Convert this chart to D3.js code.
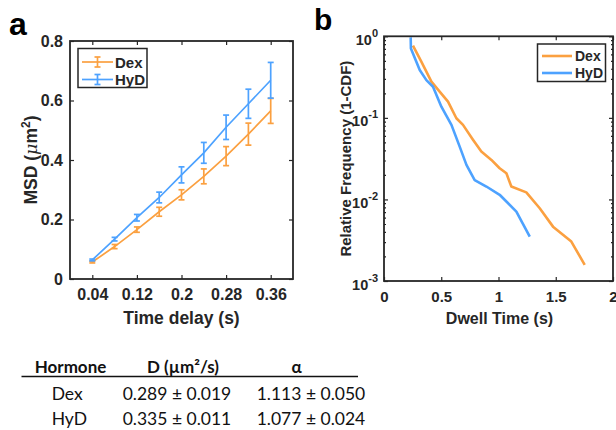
<!DOCTYPE html>
<html>
<head>
<meta charset="utf-8">
<script src="https://cdn.jsdelivr.net/npm/d3@7"></script>
<style>
  body { margin: 0; background: #fff; }
  svg { display: block; }
  .ax text { font-family: "Liberation Sans", Arial, sans-serif; font-weight: bold; fill: #262626; }
  .tbl text { font-family: Lato, "Open Sans", sans-serif; fill: #111; }
</style>
</head>
<body>
<div id="chart"></div>
<script>
// panel a: MSD vs time lag
const msdLags = [0.04, 0.08, 0.12, 0.16, 0.2, 0.24, 0.28, 0.32, 0.36];
const dexMsd = [0.057, 0.109, 0.166, 0.226, 0.283, 0.345, 0.413, 0.487, 0.565];
const dexErr = [0.003, 0.007, 0.009, 0.015, 0.017, 0.025, 0.032, 0.037, 0.042];
const hydMsd = [0.064, 0.134, 0.206, 0.274, 0.35, 0.424, 0.51, 0.589, 0.668];
const hydErr = [0.003, 0.006, 0.011, 0.018, 0.027, 0.035, 0.041, 0.049, 0.06];
const msdXTicks = [0.04, 0.12, 0.2, 0.28, 0.36];
const msdYTicks = [0, 0.2, 0.4, 0.6, 0.8];

// panel b: dwell time survival curves
const dexDwellT = [0.253, 0.326, 0.414, 0.486, 0.559, 0.632, 0.69, 0.777, 0.85, 0.938, 1.01, 1.069, 1.112, 1.243, 1.36, 1.476, 1.636, 1.753];
const dexDwellP = [0.77, 0.49, 0.278, 0.21, 0.158, 0.099, 0.082, 0.054, 0.0386, 0.0305, 0.0241, 0.0209, 0.0144, 0.0122, 0.0078, 0.00464, 0.00304, 0.00158];
const hydDwellT = [0.233, 0.235, 0.312, 0.37, 0.428, 0.501, 0.589, 0.661, 0.72, 0.792, 0.894, 1.01, 1.156, 1.273];
const hydDwellP = [0.97, 0.71, 0.386, 0.29, 0.241, 0.137, 0.082, 0.0444, 0.0265, 0.0173, 0.0144, 0.0114, 0.0071, 0.0035];
const dwellXTicks = [0, 0.5, 1, 1.5, 2];
const dwellYExp = [0, -1, -2, -3];

// fit table
const tableHeaders = ['Hormone', 'D (µm²/s)', 'α'];
const hormones = ['Dex', 'HyD'];
const dValues = ['0.289 ± 0.019', '0.335 ± 0.011'];
const alphaValues = ['1.113 ± 0.050', '1.077 ± 0.024'];

const ORANGE = '#FBA040';
const BLUE = '#4DA2FF';
const AXIS = '#262626';

const svg = d3.select('#chart').append('svg').attr('width', 616).attr('height', 430);

// ---------- panel a ----------
const pa = { left: 70, top: 41, right: 293, bottom: 279 };
const xa = d3.scaleLinear().domain([0, 0.4]).range([pa.left, pa.right]);
const ya = d3.scaleLinear().domain([0, 0.8]).range([pa.bottom, pa.top]);
const ga = svg.append('g').attr('class', 'ax');

const dexA = msdLags.map((t, i) => ({ t, v: dexMsd[i], e: dexErr[i] }));
const hydA = msdLags.map((t, i) => ({ t, v: hydMsd[i], e: hydErr[i] }));
const lineA = d3.line().x(d => xa(d.t)).y(d => ya(d.v));

[[dexA, ORANGE], [hydA, BLUE]].forEach(([data, color]) => {
  ga.append('path').datum(data).attr('d', lineA)
    .attr('fill', 'none').attr('stroke', color).attr('stroke-width', 1.7);
  const eb = ga.append('g').selectAll('g').data(data).enter().append('g')
    .attr('stroke', color).attr('stroke-width', 1.7);
  eb.append('line')
    .attr('x1', d => xa(d.t)).attr('x2', d => xa(d.t))
    .attr('y1', d => ya(d.v - d.e)).attr('y2', d => ya(d.v + d.e));
  eb.append('line')
    .attr('x1', d => xa(d.t) - 3).attr('x2', d => xa(d.t) + 3)
    .attr('y1', d => ya(d.v - d.e)).attr('y2', d => ya(d.v - d.e));
  eb.append('line')
    .attr('x1', d => xa(d.t) - 3).attr('x2', d => xa(d.t) + 3)
    .attr('y1', d => ya(d.v + d.e)).attr('y2', d => ya(d.v + d.e));
});

// axes a
ga.append('g').attr('transform', `translate(0,${pa.bottom})`)
  .call(d3.axisBottom(xa).tickValues(msdXTicks).tickSizeInner(-4).tickSizeOuter(0).tickPadding(10).tickFormat(d3.format('')))
  .call(g => g.selectAll('text').style('font-size', '16px'));
ga.append('g').attr('transform', `translate(0,${pa.top})`)
  .call(d3.axisTop(xa).tickValues(msdXTicks).tickSizeInner(-4).tickSizeOuter(0).tickFormat(''));
ga.append('g').attr('transform', `translate(${pa.left},0)`)
  .call(d3.axisLeft(ya).tickValues(msdYTicks).tickSizeInner(-4).tickSizeOuter(0).tickPadding(7).tickFormat(d3.format('')))
  .call(g => g.selectAll('text').style('font-size', '16px'));
ga.append('g').attr('transform', `translate(${pa.right},0)`)
  .call(d3.axisRight(ya).tickValues(msdYTicks).tickSizeInner(-4).tickSizeOuter(0).tickFormat(''));
ga.selectAll('.domain').remove();
ga.selectAll('.tick line').attr('stroke', AXIS).attr('stroke-width', 1.2);
ga.append('rect').attr('x', pa.left).attr('y', pa.top)
  .attr('width', pa.right - pa.left).attr('height', pa.bottom - pa.top)
  .attr('fill', 'none').attr('stroke', AXIS).attr('stroke-width', 1.8);

ga.append('text').attr('x', (pa.left + pa.right) / 2).attr('y', 324)
  .attr('text-anchor', 'middle').style('font-size', '17.5px').text('Time delay (s)');
const ylab = ga.append('text')
  .attr('transform', `translate(37,${(pa.top + pa.bottom) / 2}) rotate(-90)`)
  .attr('text-anchor', 'middle').style('font-size', '17.5px');
ylab.append('tspan').text('MSD (');
ylab.append('tspan').style('font-style', 'italic').style('font-weight', 'normal')
  .style('font-family', '"DejaVu Serif", serif').text('μ');
ylab.append('tspan').text('m');
ylab.append('tspan').attr('dy', -7).style('font-size', '12px').text('2');
ylab.append('tspan').attr('dy', 7).text(')');

// legend a
const la = ga.append('g');
la.append('rect').attr('x', 78).attr('y', 48.5).attr('width', 69).attr('height', 39)
  .attr('fill', '#fff').attr('stroke', AXIS).attr('stroke-width', 1.5);
[['Dex', ORANGE, 62], ['HyD', BLUE, 79.5]].forEach(([name, color, y]) => {
  const g = la.append('g').attr('stroke', color).attr('stroke-width', 1.7);
  g.append('line').attr('x1', 82).attr('x2', 113).attr('y1', y).attr('y2', y);
  g.append('line').attr('x1', 97.5).attr('x2', 97.5).attr('y1', y - 5).attr('y2', y + 5);
  g.append('line').attr('x1', 94.5).attr('x2', 100.5).attr('y1', y - 5).attr('y2', y - 5);
  g.append('line').attr('x1', 94.5).attr('x2', 100.5).attr('y1', y + 5).attr('y2', y + 5);
  la.append('text').attr('x', 115).attr('y', y + 5.5).style('font-size', '15px').text(name);
});

// ---------- panel b ----------
const pb = { left: 384, top: 36.3, right: 613, bottom: 281 };
const xb = d3.scaleLinear().domain([0, 2]).range([pb.left, pb.right]);
const yb = d3.scaleLog().domain([1e-3, 1]).range([pb.bottom, pb.top]);
const gb = svg.append('g').attr('class', 'ax');

const lineB = d3.line().x(d => xb(d[0])).y(d => yb(d[1]));
gb.append('path').datum(dexDwellT.map((t, i) => [t, dexDwellP[i]])).attr('d', lineB)
  .attr('fill', 'none').attr('stroke', ORANGE).attr('stroke-width', 2.6).attr('stroke-linejoin', 'round');
gb.append('path').datum(hydDwellT.map((t, i) => [t, hydDwellP[i]])).attr('d', lineB)
  .attr('fill', 'none').attr('stroke', BLUE).attr('stroke-width', 2.6).attr('stroke-linejoin', 'round');

const minorB = [];
dwellYExp.slice(1).forEach(e => { for (let k = 2; k <= 9; k++) minorB.push(k * Math.pow(10, e)); });
const majorB = dwellYExp.map(e => Math.pow(10, e));

gb.append('g').attr('transform', `translate(0,${pb.bottom})`)
  .call(d3.axisBottom(xb).tickValues(dwellXTicks).tickSizeInner(-4).tickSizeOuter(0).tickPadding(10).tickFormat(d3.format('')))
  .call(g => g.selectAll('text').style('font-size', '15px'));
gb.append('g').attr('transform', `translate(0,${pb.top})`)
  .call(d3.axisTop(xb).tickValues(dwellXTicks).tickSizeInner(-4).tickSizeOuter(0).tickFormat(''));
const yAxisL = gb.append('g').attr('transform', `translate(${pb.left},0)`)
  .call(d3.axisLeft(yb).tickValues(majorB).tickSizeInner(-4).tickSizeOuter(0).tickFormat(''));
gb.append('g').attr('transform', `translate(${pb.left},0)`)
  .call(d3.axisLeft(yb).tickValues(minorB).tickSizeInner(-2).tickSizeOuter(0).tickFormat(''));
gb.append('g').attr('transform', `translate(${pb.right},0)`)
  .call(d3.axisRight(yb).tickValues(majorB).tickSizeInner(-4).tickSizeOuter(0).tickFormat(''));
gb.append('g').attr('transform', `translate(${pb.right},0)`)
  .call(d3.axisRight(yb).tickValues(minorB).tickSizeInner(-2).tickSizeOuter(0).tickFormat(''));
gb.selectAll('.domain').remove();
gb.selectAll('.tick line').attr('stroke', AXIS).attr('stroke-width', 1.2);

// superscript labels for log ticks
yAxisL.selectAll('.tick').each(function (d) {
  const t = d3.select(this).select('text').text(null)
    .attr('x', -6).attr('y', 0).attr('dy', null)
    .attr('text-anchor', 'end').style('font-size', '14.5px');
  t.append('tspan').attr('dy', 8).text('10');
  t.append('tspan').attr('dy', -8).style('font-size', '11px').text(Math.round(Math.log10(d)));
});

gb.append('rect').attr('x', pb.left).attr('y', pb.top)
  .attr('width', pb.right - pb.left).attr('height', pb.bottom - pb.top)
  .attr('fill', 'none').attr('stroke', AXIS).attr('stroke-width', 1.8);

gb.append('text').attr('x', (pb.left + pb.right) / 2 + 1).attr('y', 324)
  .attr('text-anchor', 'middle').style('font-size', '16px').text('Dwell Time (s)');
gb.append('text')
  .attr('transform', `translate(351,${(pb.top + pb.bottom) / 2}) rotate(-90)`)
  .attr('text-anchor', 'middle').style('font-size', '15px').text('Relative Frequency (1-CDF)');

// legend b
const lb = gb.append('g');
lb.append('rect').attr('x', 537.5).attr('y', 44).attr('width', 68).attr('height', 37.5)
  .attr('fill', '#fff').attr('stroke', AXIS).attr('stroke-width', 1.5);
[['Dex', ORANGE, 56], ['HyD', BLUE, 73]].forEach(([name, color, y]) => {
  lb.append('line').attr('x1', 542).attr('x2', 572).attr('y1', y).attr('y2', y)
    .attr('stroke', color).attr('stroke-width', 2.6);
  lb.append('text').attr('x', 575).attr('y', y + 5).style('font-size', '14px').text(name);
});

// panel letters
svg.append('text').attr('x', 9).attr('y', 35).style('font-family', '"Liberation Sans", Arial, sans-serif')
  .style('font-weight', 'bold').style('font-size', '32px').attr('fill', '#000').text('a');
svg.append('text').attr('x', 314).attr('y', 30).style('font-family', '"Liberation Sans", Arial, sans-serif')
  .style('font-weight', 'bold').style('font-size', '30px').attr('fill', '#000').text('b');

// ---------- table ----------
const tb = svg.append('g').attr('class', 'tbl');
const headerX = [70.5, 183, 296.7];
tb.selectAll('.hdr').data(tableHeaders).enter().append('text')
  .attr('x', (d, i) => headerX[i]).attr('y', 373).attr('text-anchor', 'middle')
  .style('font-weight', 'bold').style('font-size', '17px').text(d => d);
tb.append('line').attr('x1', 21.5).attr('x2', 358).attr('y1', 376.5).attr('y2', 376.5)
  .attr('stroke', '#111').attr('stroke-width', 1.3);
const rowY = [400, 424.5];
[hormones, dValues, alphaValues].forEach((col, ci) => {
  tb.selectAll('.c' + ci).data(col).enter().append('text')
    .attr('x', [51.7, 122.7, 256.7][ci]).attr('y', (d, i) => rowY[i])
    .style('font-size', '17.5px').text(d => d);
});
</script>
</body>
</html>
